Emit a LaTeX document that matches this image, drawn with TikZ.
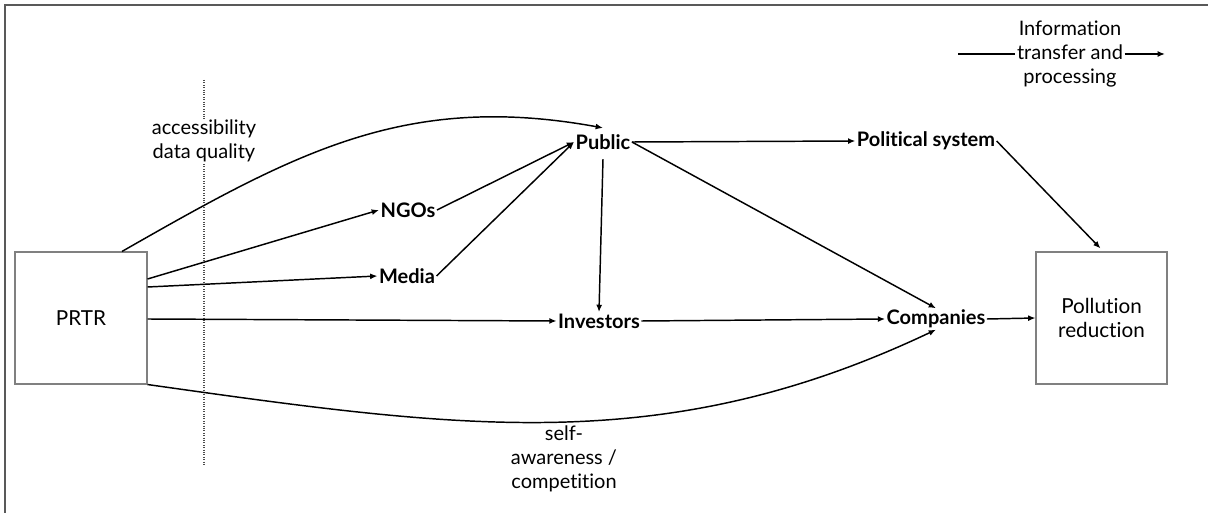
\documentclass[tikz,border=0pt]{standalone}
\usepackage{fontspec}
\setmainfont{Lato}[Ligatures=NoCommon]
\usetikzlibrary{arrows.meta,calc}
\begin{document}
\begin{tikzpicture}[x=0.75pt,y=-0.75pt,
  conn/.style={line width=1.1pt,-{Latex[length=5.5pt,width=4.5pt]}},
  plain/.style={line width=1.1pt},
  lbl/.style={font=\fontsize{15}{18}\selectfont,align=center,inner sep=1pt},
  actor/.style={font=\fontsize{15}{18}\selectfont\bfseries,inner sep=1pt},
  box/.style={draw=black!50,line width=0.8pt,minimum height=99pt,font=\fontsize{15.5}{18}\selectfont,align=center,inner sep=0pt}]
\useasboundingbox (0,0) rectangle (1208,513);
% frame
\draw[black!65,line width=0.8pt] (5,513) -- (5,5) -- (1208,5);
% dotted separator
\coordinate (dotTop) at (204,80);
\coordinate (dotBot) at (204,465);
\draw[black!70,line width=0.8pt,densely dotted] (dotTop) -- (dotBot);
\node[lbl,fill=white] (acc) at (204,141) {accessibility\\data quality};
% boxes
\node[box,minimum width=99pt] (prtr) at (81,318) {PRTR};
\node[box,minimum width=98.25pt] (pollution) at (1101.5,318) {Pollution\\reduction};
% actors
\node[actor] (ngos) at (408,210) {NGOs};
\node[actor] (media) at (407,276) {Media};
\node[actor] (public) at (603,142) {Public};
\node[actor] (political) at (926,141) {Political system};
\node[actor] (investors) at (599,321) {Investors};
\node[actor] (companies) at (936,319) {Companies};
% labels
\node[lbl] (self) at (564,459) {self-\\awareness /\\competition};
% connectors
\draw[conn] ($(prtr.north)+(41,0)$) .. controls (296,152) and (406,92) .. ($(public.north)+(0,-5)$);
\draw[conn] ($(prtr.east)+(0,-39)$) -- (ngos.west);
\draw[conn] ($(prtr.east)+(0,-31)$) -- (media.west);
\draw[conn] ($(prtr.east)+(0,1)$) -- (investors.west);
\draw[conn] (prtr.south east) .. controls (463,429) and (665,458) .. (companies.south);
\draw[conn] (ngos.east) -- (public.west);
\draw[conn] (media.east) -- (public.west);
\draw[conn] (public.east) -- (political.west);
\draw[conn] ($(public.south)+(0,8)$) -- (investors.north);
\draw[conn] (public.east) -- (companies.north);
\draw[conn] (political.east) -- ($(pollution.north)+(-1,-3)$);
\draw[conn] (investors.east) -- (companies.west);
\draw[conn] (companies.east) -- (pollution.west);
% legend
\node[lbl] (info) at (1070,54) {Information\\transfer and\\processing};
\coordinate (legA) at (958,54);
\coordinate (legB) at (1165,54);
\draw[plain] (legA) -- (info.west);
\draw[conn] (info.east) -- (legB);
\end{tikzpicture}
\end{document}
